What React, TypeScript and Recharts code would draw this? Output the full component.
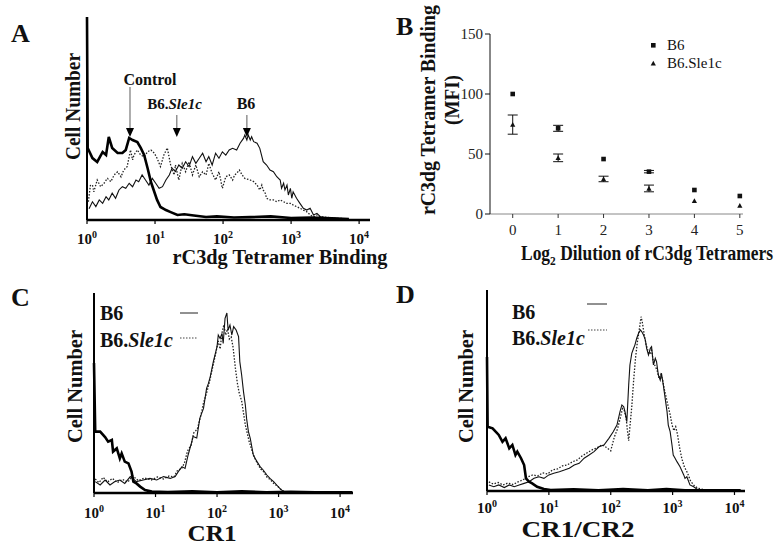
import React from 'react';
import {
  LineChart, Line, XAxis, YAxis, ReferenceLine, ReferenceDot,
  ScatterChart, Scatter, ErrorBar,
} from 'recharts';

const FONT = "'Liberation Serif', 'Times New Roman', Times, serif";

// ---------- Panel A (log10 fluorescence, relative cell number) ----------
const aControl: [number, number][] = [
  [0, 100], [0.01, 35.5], [0.08, 30.5], [0.15, 28.6], [0.23, 33.5], [0.28, 32], [0.32, 40.9],
  [0.37, 35.5], [0.45, 33], [0.52, 33], [0.57, 34.5], [0.62, 40.4], [0.67, 39.4], [0.74, 38.4],
  [0.79, 35.5], [0.84, 32], [0.89, 25.6], [0.94, 18.7], [0.99, 13.8], [1.03, 9.9], [1.08, 6.4],
  [1.16, 4.9], [1.23, 3.9], [1.33, 2.5], [1.43, 2.8], [1.57, 2.2], [1.75, 1.5], [1.91, 1.8],
  [2.16, 1.2], [2.4, 1.4], [2.7, 1.8], [3.0, 1.0], [3.3, 1.2], [3.6, 0.8], [3.85, 0.5],
];
const aB6: [number, number][] = [
  [0.03, 5.5], [0.08, 9.0], [0.13, 6.6], [0.18, 9.9], [0.23, 8.2], [0.28, 11.5], [0.32, 9.9],
  [0.37, 13.2], [0.42, 10.7], [0.47, 14.8], [0.52, 16.4], [0.57, 15.6], [0.62, 18.1], [0.67, 16.4],
  [0.72, 19.7], [0.76, 18.9], [0.81, 22.2], [0.86, 19.7], [0.91, 17.2], [0.96, 20.5], [1.01, 18.1],
  [1.06, 15.6], [1.11, 16.4], [1.16, 19.7], [1.21, 22.2], [1.25, 25.5], [1.30, 23.8], [1.35, 27.1],
  [1.40, 25.5], [1.45, 28.7], [1.50, 26.3], [1.55, 31.2], [1.60, 27.9], [1.65, 30.4], [1.70, 32.9],
  [1.75, 28.7], [1.79, 31.2], [1.84, 27.1], [1.89, 32.9], [1.94, 30.4], [1.99, 33.6], [2.04, 32.0],
  [2.09, 34.5], [2.14, 35.3], [2.20, 34.5], [2.25, 37.8], [2.30, 40.2], [2.32, 41.9], [2.35, 39.4],
  [2.37, 41.9], [2.40, 39.4], [2.42, 41.0], [2.45, 38.6], [2.50, 37.8], [2.54, 35.3], [2.59, 28.7],
  [2.64, 27.1], [2.69, 24.6], [2.74, 23.8], [2.79, 21.3], [2.84, 19.7], [2.86, 15.6], [2.89, 18.1],
  [2.91, 14.8], [2.94, 17.2], [2.96, 12.3], [2.99, 15.6], [3.01, 10.7], [3.03, 13.9], [3.08, 10.7],
  [3.13, 8.2], [3.18, 5.8], [3.23, 4.9], [3.28, 5.8], [3.33, 2.5], [3.38, 3.3], [3.43, 1.6],
  [3.48, 1.3], [3.57, 0.8], [3.67, 0.8], [3.77, 0.5],
];
const aSle: [number, number][] = [
  [0.02, 9], [0.05, 17], [0.08, 17.2], [0.10, 13.9], [0.15, 19.7], [0.20, 16.4], [0.25, 18.1],
  [0.30, 20.5], [0.35, 18.9], [0.40, 22.2], [0.45, 23.8], [0.50, 21.3], [0.54, 24.6], [0.59, 26.3],
  [0.64, 34.5], [0.67, 29.6], [0.69, 32.0], [0.74, 34.5], [0.79, 32.0], [0.84, 31.2], [0.89, 33.6],
  [0.94, 34.5], [0.99, 32.9], [1.03, 30.4], [1.08, 26.3], [1.13, 32.0], [1.18, 35.5], [1.23, 27.1],
  [1.28, 22.2], [1.30, 27.1], [1.35, 19.7], [1.40, 27.9], [1.45, 23.8], [1.50, 28.7], [1.55, 22.2],
  [1.60, 27.1], [1.65, 21.3], [1.70, 23.8], [1.75, 22.2], [1.79, 27.9], [1.84, 23.0], [1.89, 19.7],
  [1.94, 23.8], [1.99, 15.6], [2.04, 21.3], [2.09, 22.2], [2.14, 19.7], [2.17, 22.2], [2.20, 23.0],
  [2.24, 24.6], [2.28, 22.2], [2.32, 20.5], [2.40, 19.7], [2.45, 18.9], [2.50, 17.2], [2.54, 14.8],
  [2.57, 17.2], [2.59, 14.8], [2.62, 13.2], [2.64, 10.7], [2.69, 9.9], [2.74, 9.9], [2.79, 9.0],
  [2.84, 9.9], [2.89, 9.0], [2.94, 8.2], [2.99, 8.2], [3.03, 7.4], [3.08, 6.6], [3.13, 5.8],
  [3.18, 4.9], [3.23, 4.1], [3.28, 2.5], [3.33, 1.6], [3.38, 2.5], [3.43, 1.6], [3.53, 1.3],
  [3.67, 0.8], [3.77, 0.8],
];
// arrow annotations in panel A: [log10 x, line top, line bottom, tip]
const aArrows: [number, number, number, number][] = [
  [0.632, 65.5, 45.3, 40.9],
  [1.32, 51.7, 45.3, 40.9],
  [2.35, 51.7, 45.3, 40.9],
];

// ---------- Panel B ----------
const dilution = [0, 1, 2, 3, 4, 5];
const bB6 = [100, 71.4, 45.8, 35.3, 20, 15];
const bB6Err = [0, 2.5, 0, 1, 0, 0];
const bSle = [74.5, 46.8, 29.2, 21.3, 11, 7];
const bSleErr = [8, 3.2, 2.3, 2.8, 0, 0];
const bYTicks = [0, 50, 100, 150];

// ---------- Panel C (CR1) ----------
const cControl: [number, number][] = [
  [0, 65], [0.02, 30.7], [0.10, 30.7], [0.18, 28], [0.23, 25.7], [0.29, 26.5], [0.31, 20.7],
  [0.37, 22.3], [0.42, 17.3], [0.45, 19.8], [0.50, 15.7], [0.56, 14.8], [0.61, 10.7], [0.64, 5.7],
  [0.69, 4.8], [0.75, 3.2], [0.83, 1.5], [0.94, 0.7], [1.2, 0.5], [1.6, 0.8], [2.0, 0.4],
  [2.4, 0.8], [2.8, 0.4], [3.2, 0.6], [3.6, 0.4], [4.0, 0.4], [4.2, 0.3],
];
const cB6: [number, number][] = [
  [0.02, 5.7], [0.10, 4], [0.18, 6.5], [0.26, 4], [0.34, 5.7], [0.42, 6.5], [0.50, 4.8],
  [0.59, 8.2], [0.69, 5.7], [0.80, 6.5], [0.91, 7.3], [1.02, 6.5], [1.13, 8.2], [1.24, 7.3],
  [1.32, 8.2], [1.37, 10.7], [1.43, 13.2], [1.48, 12.3], [1.53, 19], [1.59, 25.7], [1.61, 28.2],
  [1.67, 27.5], [1.72, 37.3], [1.78, 42.3], [1.83, 52.3], [1.86, 54.8], [1.89, 58.2], [1.94, 65.7],
  [2.00, 73.2], [2.02, 79], [2.05, 77.3], [2.08, 79.8], [2.10, 74.8], [2.13, 87.3], [2.16, 90],
  [2.18, 81.5], [2.21, 84], [2.24, 79], [2.27, 83.2], [2.31, 81.5], [2.35, 78.2], [2.37, 65.7],
  [2.40, 59], [2.43, 50.7], [2.46, 44], [2.48, 37.3], [2.51, 30.7], [2.54, 27.3], [2.56, 24],
  [2.59, 19], [2.62, 17.3], [2.65, 15.7], [2.70, 13.2], [2.75, 11.5], [2.81, 9], [2.86, 7.3],
  [2.92, 5.7], [2.97, 4], [3.02, 2.3], [3.08, 0.7], [3.13, 0.2], [3.5, 0.2], [4.0, 0.2],
];
const cSle: [number, number][] = [
  [0.02, 7], [0.08, 5.2], [0.15, 7.8], [0.22, 5.5], [0.30, 7.3], [0.38, 5.2], [0.46, 6.8],
  [0.55, 5.5], [0.63, 8.5], [0.72, 6.2], [0.82, 7.5], [0.93, 6.5], [1.03, 8], [1.13, 7],
  [1.22, 8.5], [1.30, 8], [1.36, 11.5], [1.42, 12], [1.47, 15], [1.52, 21], [1.58, 24],
  [1.62, 30], [1.68, 32], [1.73, 38], [1.78, 45], [1.83, 50], [1.88, 56], [1.93, 63], [1.98, 70],
  [2.02, 76], [2.05, 72], [2.08, 80], [2.11, 84], [2.14, 79], [2.17, 82], [2.20, 77], [2.23, 78],
  [2.26, 73], [2.30, 62], [2.33, 55], [2.36, 50], [2.40, 46], [2.43, 40], [2.46, 34], [2.49, 30],
  [2.52, 26], [2.55, 23], [2.58, 20], [2.62, 17], [2.66, 14.5], [2.71, 12], [2.76, 10.5],
  [2.81, 8], [2.87, 6.5], [2.93, 4.5], [2.98, 3.5], [3.03, 2], [3.09, 0.8], [3.14, 0.3],
  [3.4, 0.5], [3.7, 0.2], [4.0, 0.2],
];

// ---------- Panel D (CR1/CR2) ----------
const dControl: [number, number][] = [
  [0, 66.7], [0.01, 32], [0.09, 31.2], [0.14, 29.5], [0.19, 27.9], [0.25, 24.5], [0.30, 26.2],
  [0.36, 21.2], [0.41, 22.9], [0.46, 17.9], [0.49, 19.6], [0.55, 16.3], [0.60, 12.9], [0.63, 6.3],
  [0.68, 4.6], [0.73, 3.8], [0.81, 2.1], [0.92, 1], [1.03, 0.5], [1.4, 0.8], [1.8, 0.4],
  [2.2, 1.0], [2.6, 0.4], [2.9, 1.0], [3.2, 0.4], [3.6, 0.3], [4.1, 0.3],
];
const dB6: [number, number][] = [
  [0.03, 3], [0.11, 2.1], [0.19, 3], [0.28, 1.7], [0.36, 3], [0.44, 2.1], [0.52, 3], [0.60, 3.8],
  [0.68, 4.6], [0.76, 6.3], [0.84, 7.1], [0.92, 6.3], [1.00, 8], [1.08, 8.8], [1.17, 9.6],
  [1.25, 10.4], [1.33, 11.3], [1.41, 12.9], [1.49, 13.8], [1.57, 16.3], [1.65, 17.9], [1.73, 19.6],
  [1.81, 22], [1.89, 22.9], [1.97, 26.2], [2.04, 29.5], [2.10, 32.8], [2.15, 39.5], [2.18, 42.8],
  [2.21, 41.9], [2.23, 39.5], [2.26, 34.5], [2.29, 52.7], [2.31, 62.7], [2.34, 68.5], [2.37, 71],
  [2.39, 72.6], [2.42, 76], [2.45, 78.5], [2.48, 80.1], [2.50, 79.3], [2.53, 77.6], [2.56, 75.1],
  [2.58, 71], [2.61, 67.7], [2.64, 71], [2.66, 71.8], [2.69, 62.7], [2.72, 66], [2.74, 64.3],
  [2.77, 57.7], [2.80, 55.2], [2.82, 58.6], [2.85, 52.7], [2.88, 46.1], [2.91, 39.5], [2.93, 32.8],
  [2.96, 29.5], [2.99, 22.9], [3.01, 17.9], [3.04, 16.3], [3.07, 14.6], [3.12, 12.1], [3.18, 8],
  [3.20, 6.3], [3.23, 7.1], [3.28, 3], [3.34, 2.1], [3.39, 1], [3.45, 0.5], [3.6, 0.3],
];
const dSle: [number, number][] = [
  [0.03, 4.5], [0.10, 3.5], [0.18, 4.2], [0.26, 3], [0.34, 4], [0.42, 3.2], [0.50, 4.5],
  [0.58, 5.5], [0.66, 7], [0.74, 8], [0.82, 7.5], [0.90, 9], [0.98, 8.5], [1.06, 10.5],
  [1.14, 11], [1.22, 12.5], [1.30, 13], [1.38, 14.5], [1.46, 15.5], [1.54, 17.5], [1.62, 19],
  [1.70, 20.5], [1.78, 21.5], [1.86, 23], [1.94, 21.5], [2.00, 20], [2.06, 27], [2.11, 31],
  [2.16, 37], [2.19, 41], [2.22, 40], [2.25, 36], [2.27, 30], [2.29, 25], [2.31, 32], [2.34, 42],
  [2.37, 55], [2.40, 66], [2.43, 74], [2.46, 80], [2.49, 86.7], [2.51, 84], [2.54, 78], [2.57, 73],
  [2.60, 70], [2.63, 68], [2.66, 70], [2.69, 64], [2.72, 62], [2.75, 60], [2.78, 56], [2.81, 58],
  [2.84, 55], [2.87, 50], [2.90, 46], [2.93, 42], [2.96, 38], [2.99, 33], [3.02, 30], [3.05, 32],
  [3.08, 28], [3.11, 22], [3.15, 16], [3.19, 12], [3.24, 9], [3.29, 5], [3.34, 3], [3.40, 1.5],
  [3.46, 1], [3.55, 0.5], [3.7, 0.3],
];

const decadeTicks = [0, 1, 2, 3, 4];

const toPts = (a: [number, number][]) => a.map(([x, y]) => ({ x, y }));

const logTick = (off: number) => (p: any) => (
  <text x={p.x} y={p.y + off} textAnchor="middle" fontFamily={FONT} fontWeight="bold" fontSize={15} fill="#111">
    10<tspan dy={-6} fontSize={10}>{p.payload.value}</tspan>
  </text>
);

type HistoProps = {
  left: number; top: number; width: number; height: number;
  pl: number; pr: number; pt: number; pb: number; xMax: number; tickOff: number;
  control: [number, number][]; b6: [number, number][]; sle: [number, number][];
  extra?: React.ReactNode;
};

function Histo(props: HistoProps) {
  const { left, top, width, height, pl, pr, pt, pb, xMax, tickOff, control, b6, sle, extra } = props;
  return (
    <div style={{ position: 'absolute', left, top, width, height }}>
      <LineChart width={width} height={height} margin={{ top: pt, left: pl, right: width - pr, bottom: 0 }}>
        <XAxis
          type="number" dataKey="x" domain={[0, xMax]} ticks={decadeTicks} height={height - pb}
          tickSize={4} tickMargin={0} interval={0}
          axisLine={{ stroke: '#000', strokeWidth: 2.6 }} tickLine={{ stroke: '#000', strokeWidth: 1.2 }}
          tick={logTick(tickOff)}
        />
        <YAxis type="number" dataKey="y" domain={[0, 100]} hide />
        <ReferenceLine x={0} stroke="#000" strokeWidth={2} />
        <Line data={toPts(sle)} dataKey="y" stroke="#222" strokeWidth={1.3} strokeDasharray="1.5 1.6" dot={false} isAnimationActive={false} />
        <Line data={toPts(b6)} dataKey="y" stroke="#111" strokeWidth={1.1} dot={false} isAnimationActive={false} />
        <Line data={toPts(control)} dataKey="y" stroke="#000" strokeWidth={2.6} dot={false} isAnimationActive={false} />
        {extra}
      </LineChart>
    </div>
  );
}

const arrowHead = (p: any) => (
  <polygon points={`${p.cx - 4},${p.cy - 9} ${p.cx + 4},${p.cy - 9} ${p.cx},${p.cy}`} fill="#000" />
);

const Square = (p: any) => <rect x={p.cx - 2.3} y={p.cy - 2.3} width={4.6} height={4.6} fill="#111" />;
const Tri = (p: any) => (
  <polygon points={`${p.cx - 2.6},${p.cy + 2.2} ${p.cx + 2.6},${p.cy + 2.2} ${p.cx},${p.cy - 2.6}`} fill="#111" />
);

const bB6Data = dilution.map((x, i) => ({ x, y: bB6[i], e: bB6Err[i] }));
const bSleData = dilution.map((x, i) => ({ x, y: bSle[i], e: bSleErr[i] }));

function PanelB() {
  const tickStyle = { fontSize: 15, fontFamily: FONT, fill: '#222' };
  return (
    <div style={{ position: 'absolute', left: 390, top: 0, width: 387, height: 280 }}>
      <ScatterChart width={387} height={280} margin={{ top: 34, right: 34, left: 70, bottom: 0 }}>
        <XAxis
          type="number" dataKey="x" domain={[-0.5, 5.07]} ticks={dilution} height={66} interval={0}
          tickSize={4} tickMargin={6} axisLine={{ stroke: '#888', strokeWidth: 1 }}
          tickLine={{ stroke: '#333' }} tick={tickStyle}
        />
        <YAxis
          type="number" dataKey="y" domain={[0, 150]} ticks={bYTicks} width={30} interval={0}
          tickSize={5} tickMargin={2} axisLine={{ stroke: '#111' }} tickLine={{ stroke: '#111' }} tick={tickStyle}
        />
        <Scatter data={bB6Data} shape={Square} isAnimationActive={false}>
          <ErrorBar dataKey="e" width={5} direction="y" stroke="#111" strokeWidth={1} />
        </Scatter>
        <Scatter data={bSleData} shape={Tri} isAnimationActive={false}>
          <ErrorBar dataKey="e" width={5} direction="y" stroke="#111" strokeWidth={1} />
        </Scatter>
      </ScatterChart>
    </div>
  );
}

const Rot = ({ x, y, len, size = 20, children }: any) => (
  <text transform={`rotate(-90 ${x} ${y})`} x={x} y={y} textAnchor="middle" fontFamily={FONT}
    fontWeight="bold" fontSize={size} textLength={len} lengthAdjust="spacingAndGlyphs" fill="#111">
    {children}
  </text>
);

function Overlay() {
  const bold = { fontFamily: FONT, fontWeight: 'bold' as const, fill: '#111' };
  return (
    <svg width={777} height={546} style={{ position: 'absolute', left: 0, top: 0, pointerEvents: 'none' }}>
      {/* panel letters */}
      <text x={11} y={42} fontSize={26} {...bold}>A</text>
      <text x={396} y={35} fontSize={26} {...bold}>B</text>
      <text x={11} y={306} fontSize={26} {...bold}>C</text>
      <text x={396} y={303} fontSize={26} {...bold}>D</text>

      {/* Panel A */}
      <Rot x={80} y={106.5} len={107}>Cell Number</Rot>
      <text x={280} y={264} textAnchor="middle" fontSize={20} textLength={215} lengthAdjust="spacingAndGlyphs" {...bold}>rC3dg Tetramer Binding</text>
      <text x={150} y={85} textAnchor="middle" fontSize={16} {...bold}>Control</text>
      <text x={174.5} y={109} textAnchor="middle" fontSize={15} {...bold}>B6.<tspan fontStyle="italic">Sle1c</tspan></text>
      <text x={246} y={109} textAnchor="middle" fontSize={16} {...bold}>B6</text>

      {/* Panel B */}
      <Rot x={435} y={110} len={210}>rC3dg Tetramer Binding</Rot>
      <Rot x={459} y={100} len={50}>(MFI)</Rot>
      <text x={521} y={260} fontSize={20} textLength={252} lengthAdjust="spacingAndGlyphs" {...bold}>
        Log<tspan dy={5} fontSize={13}>2</tspan><tspan dy={-5}> Dilution of rC3dg Tetramers</tspan>
      </text>
      <rect x={651} y={43} width={4.6} height={4.6} fill="#111" />
      <text x={667} y={50} fontSize={15} fontFamily={FONT} fill="#111">B6</text>
      <polygon points="650.7,65.5 655.9,65.5 653.3,60.7" fill="#111" />
      <text x={667} y={68} fontSize={15} fontFamily={FONT} fill="#111">B6.Sle1c</text>

      {/* Panel C */}
      <Rot x={82} y={386.5} len={113}>Cell Number</Rot>
      <text x={212} y={541} textAnchor="middle" fontSize={24} textLength={49} lengthAdjust="spacingAndGlyphs" {...bold}>CR1</text>
      <text x={100} y={320} fontSize={20} {...bold}>B6</text>
      <text x={100} y={347} fontSize={20} {...bold}>B6.<tspan fontStyle="italic">Sle1c</tspan></text>
      <line x1={180} y1={313} x2={198} y2={313} stroke="#222" strokeWidth={1} />
      <line x1={180} y1={338} x2={198} y2={338} stroke="#444" strokeWidth={1.2} strokeDasharray="1.5 1.5" />

      {/* Panel D */}
      <Rot x={473} y={386.5} len={113}>Cell Number</Rot>
      <text x={578} y={537} textAnchor="middle" fontSize={24} textLength={113} lengthAdjust="spacingAndGlyphs" {...bold}>CR1/CR2</text>
      <text x={512} y={319} fontSize={20} {...bold}>B6</text>
      <text x={512} y={345} fontSize={20} {...bold}>B6.<tspan fontStyle="italic">Sle1c</tspan></text>
      <line x1={587} y1={304} x2={607} y2={304} stroke="#222" strokeWidth={1} />
      <line x1={588} y1={330} x2={607} y2={330} stroke="#444" strokeWidth={1.2} strokeDasharray="1.5 1.5" />
    </svg>
  );
}

export default function App() {
  const arrowsA = (
    <>
      {aArrows.map(([x, y1, y2], i) => (
        <ReferenceLine key={`l${i}`} segment={[{ x, y: y1 }, { x, y: y2 }]} stroke="#777" strokeWidth={1.2} />
      ))}
      {aArrows.map(([x, , , tip], i) => (
        <ReferenceDot key={`d${i}`} x={x} y={tip} r={4} shape={arrowHead} />
      ))}
    </>
  );
  return (
    <div style={{ position: 'absolute', left: 0, top: 0, width: 777, height: 546, background: '#fff', overflow: 'hidden' }}>
      <Histo left={0} top={0} width={390} height={280} pl={87} pr={370} pt={17} pb={220} xMax={4.16} tickOff={20}
        control={aControl} b6={aB6} sle={aSle} extra={arrowsA} />
      <PanelB />
      <Histo left={0} top={280} width={390} height={266} pl={94} pr={353} pt={13} pb={213} xMax={4.21} tickOff={21}
        control={cControl} b6={cB6} sle={cSle} />
      <Histo left={390} top={280} width={387} height={266} pl={97} pr={355} pt={10} pb={211} xMax={4.17} tickOff={18}
        control={dControl} b6={dB6} sle={dSle} />
      <Overlay />
    </div>
  );
}
